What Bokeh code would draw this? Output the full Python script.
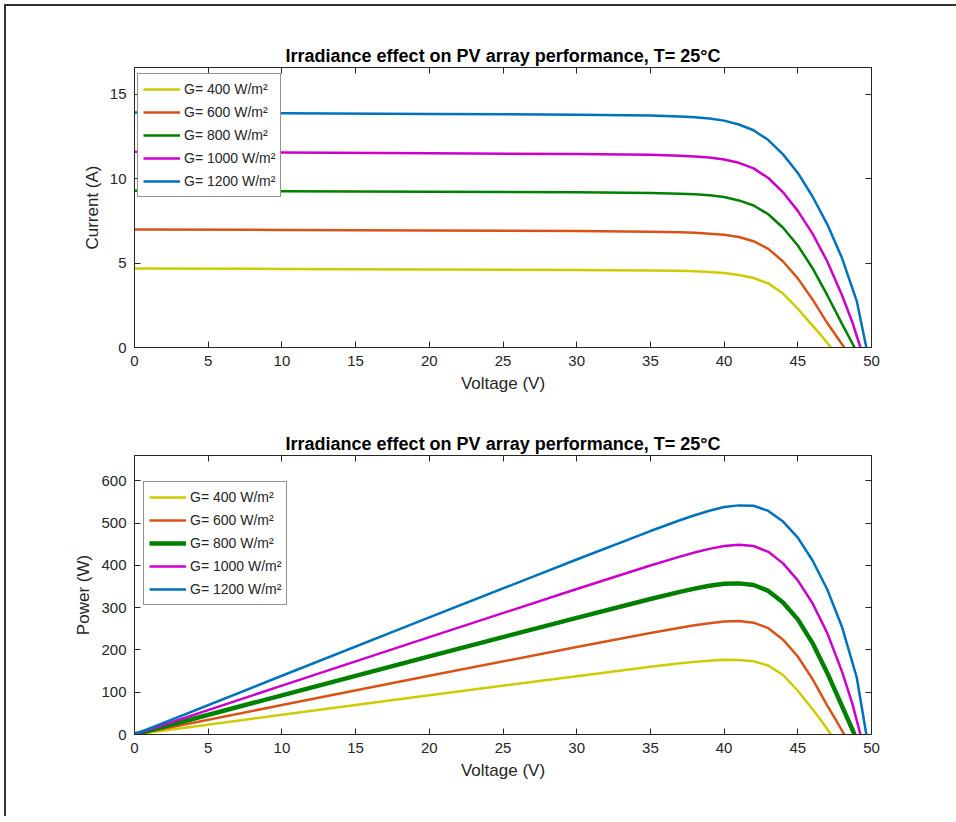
from bokeh.plotting import figure
from bokeh.layouts import column
from bokeh.models import LinearAxis, FixedTicker, Range1d, Legend, LegendItem
from bokeh.embed import file_html
from bokeh.resources import INLINE

# ---------------- data ----------------
labels = ["G= 400 W/m²", "G= 600 W/m²", "G= 800 W/m²", "G= 1000 W/m²", "G= 1200 W/m²"]
colors = ["#CCCC00", "#D95319", "#008000", "#CC00CC", "#0072BD"]

v_400 = [0, 10, 20, 30, 35, 37, 38, 39, 40, 41, 42, 43, 44, 45, 46, 46.6, 47.25]
i_400 = [4.68, 4.66, 4.63, 4.60, 4.57, 4.55, 4.52, 4.48, 4.42, 4.30, 4.12, 3.80, 3.20, 2.30, 1.30, 0.70, 0]
p_400 = [0, 46.6, 92.6, 138.0, 160.0, 168.4, 171.8, 174.7, 176.8, 176.3, 173.0, 163.4, 140.8, 103.5, 59.8, 32.6, 0]

v_600 = [0, 10, 20, 30, 35, 37, 38, 39, 40, 41, 42, 43, 44, 45, 46, 47, 47.6, 48.15]
i_600 = [7.00, 6.97, 6.94, 6.90, 6.86, 6.83, 6.80, 6.75, 6.68, 6.55, 6.30, 5.85, 5.10, 4.10, 2.85, 1.45, 0.70, 0]
p_600 = [0, 69.7, 138.8, 207.0, 240.1, 252.7, 258.4, 263.3, 267.2, 268.6, 264.6, 251.6, 224.4, 184.5, 131.1, 68.2, 33.3, 0]

v_800 = [0, 10, 20, 30, 35, 37, 38, 39, 40, 41, 42, 43, 44, 45, 46, 47, 48, 48.85]
i_800 = [9.30, 9.27, 9.24, 9.20, 9.16, 9.12, 9.08, 9.02, 8.92, 8.72, 8.42, 7.90, 7.10, 6.05, 4.70, 3.10, 1.40, 0]
p_800 = [0, 92.7, 184.8, 276.0, 320.6, 337.4, 345.0, 351.8, 356.8, 357.5, 353.6, 339.7, 312.4, 272.3, 216.2, 145.7, 67.2, 0]

v_1000 = [0, 10, 20, 30, 35, 37, 38, 39, 40, 41, 42, 43, 44, 45, 46, 47, 48, 48.7, 49.25]
i_1000 = [11.60, 11.56, 11.52, 11.47, 11.42, 11.37, 11.33, 11.26, 11.15, 10.95, 10.62, 10.05, 9.20, 8.10, 6.75, 5.10, 3.10, 1.50, 0]
p_1000 = [0, 115.6, 230.4, 344.1, 399.7, 420.7, 430.5, 439.1, 446.0, 449.0, 446.0, 432.2, 404.8, 364.5, 310.5, 239.7, 148.8, 73.1, 0]

v_1200 = [0, 10, 20, 30, 35, 37, 38, 39, 40, 41, 42, 43, 44, 45, 46, 47, 48, 49, 49.65]
i_1200 = [13.93, 13.89, 13.85, 13.80, 13.75, 13.70, 13.65, 13.57, 13.45, 13.22, 12.88, 12.30, 11.45, 10.35, 8.95, 7.30, 5.30, 2.75, 0]
p_1200 = [0, 138.9, 277.0, 414.0, 481.3, 506.9, 518.7, 529.2, 538.0, 542.0, 541.0, 528.9, 503.8, 465.8, 411.7, 343.1, 254.4, 134.8, 0]

x_ticks = [0, 5, 10, 15, 20, 25, 30, 35, 40, 45, 50]
i_ticks = [0, 5, 10, 15]
p_ticks = [0, 100, 200, 300, 400, 500, 600]

title_text = "Irradiance effect on PV array performance, T= 25°C"
volts = [v_400, v_600, v_800, v_1000, v_1200]
currents = [i_400, i_600, i_800, i_1000, i_1200]
powers = [p_400, p_600, p_800, p_1000, p_1200]

FONT = "Liberation Sans"
AX = "#262626"


def style_axis(ax, show_labels=True):
    ax.axis_line_color = AX
    ax.major_tick_line_color = AX
    ax.major_tick_in = 6
    ax.major_tick_out = 0
    ax.minor_tick_line_color = None
    ax.major_label_text_font = FONT
    ax.axis_label_text_font = FONT
    ax.axis_label_text_font_style = "normal"
    ax.axis_label_text_color = AX
    ax.axis_label_text_font_size = "17px"
    if show_labels:
        ax.major_label_text_color = AX
        ax.major_label_text_font_size = "15px"
    else:
        ax.major_label_text_color = None
        ax.major_label_text_font_size = "1px"


def make_fig(ys, y_end, y_ticks, ylabel, frame_h, top_b, bot_b, widths, loc):
    p = figure(frame_width=737, frame_height=frame_h,
               x_range=Range1d(0, 50), y_range=Range1d(0, y_end),
               output_backend="svg", toolbar_location=None,
               min_border_left=128, min_border_right=85,
               min_border_top=top_b, min_border_bottom=bot_b,
               background_fill_color="white", border_fill_color="white")
    p.grid.visible = False
    p.outline_line_color = AX
    p.xaxis.ticker = FixedTicker(ticks=x_ticks)
    p.yaxis.ticker = FixedTicker(ticks=y_ticks)
    p.xaxis.axis_label = "Voltage (V)"
    p.yaxis.axis_label = ylabel
    for ax in p.xaxis + p.yaxis:
        style_axis(ax)
    p.xaxis.major_label_standoff = 8
    p.yaxis.major_label_standoff = 8
    p.xaxis.axis_label_standoff = 5
    p.yaxis.axis_label_standoff = 5
    top_ax = LinearAxis(ticker=FixedTicker(ticks=x_ticks))
    right_ax = LinearAxis(ticker=FixedTicker(ticks=y_ticks))
    style_axis(top_ax, False)
    style_axis(right_ax, False)
    p.add_layout(top_ax, "above")
    p.add_layout(right_ax, "right")

    p.title.text = title_text
    p.title.text_font = FONT
    p.title.text_font_style = "bold"
    p.title.text_font_size = "18px"
    p.title.text_color = "#000000"
    p.title.align = "center"
    p.title.standoff = 4

    items = []
    for k in range(5):
        r = p.line(volts[k], ys[k], line_color=colors[k], line_width=widths[k])
        items.append(LegendItem(label=labels[k], renderers=[r]))
    leg = Legend(items=items, location=loc)
    leg.label_text_font = FONT
    leg.label_text_font_size = "14px"
    leg.label_text_color = AX
    leg.glyph_width = 37
    leg.glyph_height = 20
    leg.label_height = 20
    leg.label_standoff = 4
    leg.spacing = 3
    leg.padding = 5
    leg.margin = 0
    leg.border_line_color = AX
    leg.border_line_width = 1
    leg.background_fill_color = "white"
    leg.background_fill_alpha = 1
    p.add_layout(leg, "center")
    return p


p1 = make_fig(currents, 16.6, i_ticks, "Current (A)", 280, 61, 54,
              [2.5, 2.5, 2.5, 2.5, 2.5], (3, 150))
p2 = make_fig(powers, 660, p_ticks, "Power (W)", 279, 54, 82,
              [2.5, 2.5, 4.5, 2.5, 2.5], (9, 129))

col = column(p1, p2)
col.styles = {"border-left": "2px solid #333333", "border-top": "2px solid #333333",
              "margin-left": "4px", "margin-top": "4px"}

open("out.html", "w").write(file_html(col, INLINE))
